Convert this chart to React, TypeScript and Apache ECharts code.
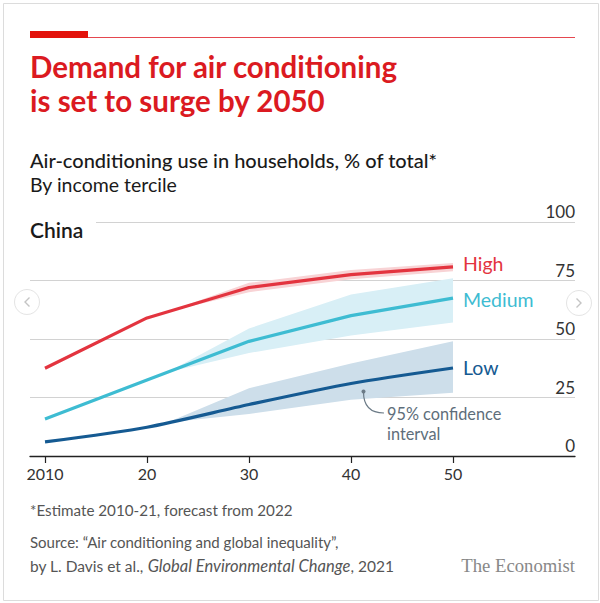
import React, { useEffect, useRef } from "react";
import * as echarts from "echarts";

const years = [2010, 2020, 2030, 2040, 2050];
const highValues = [37.5, 59, 72, 77.5, 80.8];
const mediumValues = [15.8, 32.5, 49, 60, 67.5];
const lowValues = [6, 12.3, 22, 31, 37.6];

const bandYears = [2022, 2030, 2040, 2050];
const highLower = [61.6, 70, 75.5, 79];
const highUpper = [61.6, 74, 79.5, 82.5];
const mediumLower = [35.8, 44, 51.5, 57];
const mediumUpper = [35.8, 54.5, 69, 76];
const lowLower = [14.3, 18, 24, 27];
const lowUpper = [14.3, 29, 39.5, 49];

const xTicks = [2010, 2020, 2030, 2040, 2050];
const xTickLabels = ["2010", "20", "30", "40", "50"];
const yTicks = [0, 25, 50, 75, 100];

const FONT = "Lato, 'Noto Sans', sans-serif";
const RED = "#e3343f";
const CYAN = "#3ebcd2";
const NAVY = "#155a92";

function band(name: string, lower: number[], upper: number[], color: string) {
  return {
    name: name + "-band",
    type: "custom",
    silent: true,
    z: 1,
    data: bandYears.map((y, i) => [y, lower[i], upper[i]]),
    encode: { x: 0, y: [1, 2] },
    renderItem: (params: any, api: any) => {
      if (params.dataIndex !== 0) return null;
      const top = bandYears.map((y, i) => api.coord([y, upper[i]]));
      const bottom = bandYears.map((y, i) => api.coord([y, lower[i]])).reverse();
      return {
        type: "polygon",
        shape: { points: top.concat(bottom) },
        style: { fill: color },
      };
    },
  };
}

function line(name: string, values: number[], color: string, smooth: number | boolean, dy: number) {
  return {
    name,
    type: "line",
    data: years.map((y, i) => [y, values[i]]),
    symbol: "none",
    smooth,
    lineStyle: { color, width: 3.2 },
    z: 3,
    endLabel: {
      show: true,
      formatter: name,
      color,
      fontFamily: FONT,
      fontSize: 19.5,
      distance: 10,
      offset: [0, dy],
    },
  };
}

export default function App() {
  const ref = useRef<HTMLDivElement>(null);
  useEffect(() => {
    if (!ref.current) return;
    const chart = echarts.init(ref.current, null, { renderer: "svg" });
    const option: any = {
      animation: false,
      backgroundColor: "#ffffff",
      textStyle: { fontFamily: FONT },
      grid: { left: 30, right: 25, top: 222, bottom: 147, containLabel: false },
      xAxis: {
        type: "value",
        min: 2008.53,
        max: 2061.96,
        axisLine: { lineStyle: { color: "#222", width: 1.3 } },
        axisTick: {
          show: true,
          customValues: xTicks,
          length: 7,
          lineStyle: { color: "#222", width: 1.2 },
        },
        axisLabel: {
          customValues: xTicks,
          formatter: (v: number) => xTickLabels[xTicks.indexOf(v)] ?? "",
          fontSize: 16,
          color: "#333",
          fontFamily: FONT,
          margin: 9,
        },
        splitLine: { show: false },
      },
      yAxis: {
        type: "value",
        position: "right",
        min: yTicks[0],
        max: yTicks[yTicks.length - 1],
        interval: 25,
        axisLine: { show: false },
        axisTick: { show: false },
        axisLabel: {
          inside: true,
          margin: 0,
          align: "right",
          verticalAlign: "bottom",
          padding: [0, 0, 2, 0],
          fontSize: 17,
          color: "#333",
          fontFamily: FONT,
        },
        splitLine: { lineStyle: { color: "#d2d2d2", width: 1 } },
      },
      series: [
        band("high", highLower, highUpper, "#f8d3d5"),
        band("medium", mediumLower, mediumUpper, "#d8eff6"),
        band("low", lowLower, lowUpper, "#cddeea"),
        line("High", highValues, RED, false, -3),
        line("Medium", mediumValues, CYAN, false, 1),
        line("Low", lowValues, NAVY, 0.25, -1),
      ],
      graphic: [
        {
          type: "rect",
          shape: { x: 3.5, y: 3.5, width: 595, height: 597 },
          style: { fill: "none", stroke: "#dcdcdc", lineWidth: 1 },
          z: 100,
        },
        {
          type: "rect",
          shape: { x: 30, y: 31, width: 58, height: 7 },
          style: { fill: "#e3120b" },
          z: 100,
        },
        {
          type: "line",
          shape: { x1: 88, y1: 37.5, x2: 575, y2: 37.5 },
          style: { stroke: "#e5474f", lineWidth: 1 },
          z: 100,
        },
        {
          type: "text",
          x: 30,
          y: 66,
          style: {
            text: "Demand for air conditioning",
            fill: "#db1a21",
            font: `bold 29.5px ${FONT}`,
            textVerticalAlign: "middle",
          },
          z: 100,
        },
        {
          type: "text",
          x: 30,
          y: 100,
          style: {
            text: "is set to surge by 2050",
            fill: "#db1a21",
            font: `bold 29.5px ${FONT}`,
            textVerticalAlign: "middle",
          },
          z: 100,
        },
        {
          type: "text",
          x: 30,
          y: 160,
          style: {
            text: "Air-conditioning use in households, % of total*",
            fill: "#1a1a1a",
            font: `500 20px ${FONT}`,
            textVerticalAlign: "middle",
          },
          z: 100,
        },
        {
          type: "text",
          x: 30,
          y: 184,
          style: {
            text: "By income tercile",
            fill: "#1a1a1a",
            font: `19.5px ${FONT}`,
            textVerticalAlign: "middle",
          },
          z: 100,
        },
        {
          type: "rect",
          shape: { x: 28, y: 216, width: 68, height: 10 },
          style: { fill: "#ffffff" },
          z: 90,
        },
        {
          type: "text",
          x: 30,
          y: 229,
          style: {
            text: "China",
            fill: "#1a1a1a",
            font: `600 21px ${FONT}`,
            textVerticalAlign: "middle",
          },
          z: 100,
        },
        {
          type: "circle",
          shape: { cx: 363.5, cy: 391.5, r: 2 },
          style: { fill: "#6b7a86" },
          z: 100,
        },
        {
          type: "bezierCurve",
          shape: { x1: 363.5, y1: 392, cpx1: 363.5, cpy1: 406, cpx2: 370, cpy2: 413, x2: 384, y2: 413 },
          style: { stroke: "#6b7a86", lineWidth: 1.2, fill: "none" },
          z: 100,
        },
        {
          type: "text",
          x: 387,
          y: 413,
          style: {
            text: "95% confidence",
            fill: "#5e6e7a",
            font: `16.3px ${FONT}`,
            textVerticalAlign: "middle",
          },
          z: 100,
        },
        {
          type: "text",
          x: 387,
          y: 433,
          style: {
            text: "interval",
            fill: "#5e6e7a",
            font: `16.3px ${FONT}`,
            textVerticalAlign: "middle",
          },
          z: 100,
        },
        {
          type: "text",
          x: 30,
          y: 510,
          style: {
            text: "*Estimate 2010-21, forecast from 2022",
            fill: "#555",
            font: `15.2px ${FONT}`,
            textVerticalAlign: "middle",
          },
          z: 100,
        },
        {
          type: "text",
          x: 30,
          y: 542,
          style: {
            text: "Source: \u201cAir conditioning and global inequality\u201d,",
            fill: "#555",
            font: `15px ${FONT}`,
            textVerticalAlign: "middle",
          },
          z: 100,
        },
        {
          type: "text",
          x: 30,
          y: 566,
          style: {
            text: "{n|by L. Davis et al., }{i|Global Environmental Change}{n|, 2021}",
            fill: "#555",
            font: `15px ${FONT}`,
            textVerticalAlign: "middle",
            rich: {
              n: { fontFamily: FONT, fontSize: 15.5, fill: "#555", color: "#555" },
              i: { fontFamily: FONT, fontSize: 16.5, fontStyle: "italic", fill: "#555", color: "#555" },
            },
          },
          z: 100,
        },
        {
          type: "text",
          x: 575,
          y: 565,
          style: {
            text: "The Economist",
            fill: "#888",
            font: `18.7px 'Liberation Serif', 'DejaVu Serif', serif`,
            textAlign: "right",
            textVerticalAlign: "middle",
          },
          z: 100,
        },
        {
          type: "circle",
          shape: { cx: 27, cy: 302, r: 12.5 },
          style: { fill: "#ffffff", stroke: "#e4e4e4", lineWidth: 1 },
          z: 100,
        },
        {
          type: "polyline",
          shape: { points: [[29.5, 297.5], [25, 302], [29.5, 306.5]] },
          style: { stroke: "#c4c4c4", lineWidth: 1.4, fill: "none" },
          z: 100,
        },
        {
          type: "circle",
          shape: { cx: 579, cy: 303, r: 12.5 },
          style: { fill: "#ffffff", stroke: "#e4e4e4", lineWidth: 1 },
          z: 100,
        },
        {
          type: "polyline",
          shape: { points: [[576.5, 298.5], [581, 303], [576.5, 307.5]] },
          style: { stroke: "#c4c4c4", lineWidth: 1.4, fill: "none" },
          z: 100,
        },
      ],
    };
    chart.setOption(option);
    return () => chart.dispose();
  }, []);
  return (
    <div
      ref={ref}
      style={{ position: "fixed", left: 0, top: 0, width: 600, height: 603, background: "#fff" }}
    />
  );
}
